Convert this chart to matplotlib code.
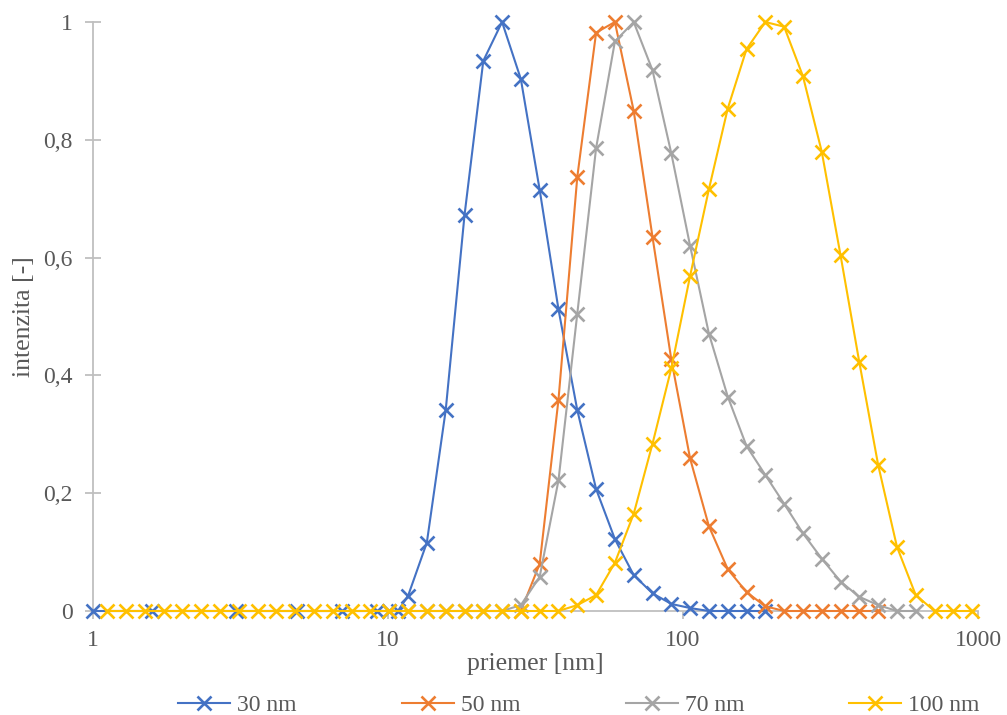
import numpy as np
import matplotlib.pyplot as plt
from matplotlib.ticker import FixedLocator, FuncFormatter, NullLocator

# Size classes [nm] and normalised intensities for each sample
x_30 = [1.0, 1.58, 3.05, 4.9, 6.97, 9.16, 10.1, 10.8, 11.70, 13.54, 15.69, 18.17,
        21.04, 24.36, 28.21, 32.67, 37.84, 43.82, 50.75, 58.77, 68.06, 78.82,
        91.28, 105.7, 122.4, 141.8, 164.2, 190.1]
y_30 = [0, 0, 0, 0, 0, 0, 0, 0, 0.026, 0.116, 0.341, 0.672,
        0.934, 1.0, 0.903, 0.715, 0.512, 0.341, 0.207, 0.122, 0.061, 0.030,
        0.012, 0.005, 0, 0, 0, 0]

x_50 = [28.21, 32.67, 37.84, 43.82, 50.75, 58.77, 68.06, 78.82, 91.28, 105.7,
        122.4, 141.8, 164.2, 190.1, 220.2, 255.0, 295.3, 342.0, 396.1, 458.7]
y_50 = [0, 0.080, 0.359, 0.737, 0.982, 1.0, 0.849, 0.635, 0.427, 0.259,
        0.144, 0.071, 0.032, 0.008, 0, 0, 0, 0, 0, 0]

x_70 = [10.10, 11.70, 13.54, 15.69, 18.17, 21.04, 24.36, 28.21, 32.67, 37.84,
        43.82, 50.75, 58.77, 68.06, 78.82, 91.28, 105.7, 122.4, 141.8, 164.2,
        190.1, 220.2, 255.0, 295.3, 342.0, 396.1, 458.7, 531.2, 615.1]
y_70 = [0, 0, 0, 0, 0, 0, 0, 0.010, 0.058, 0.222,
        0.505, 0.786, 0.967, 1.0, 0.918, 0.777, 0.620, 0.471, 0.364, 0.280,
        0.231, 0.182, 0.132, 0.089, 0.050, 0.024, 0.010, 0, 0]

x_100 = [1.117, 1.294, 1.499, 1.736, 2.010, 2.328, 2.696, 3.122, 3.615, 4.187,
         4.849, 5.615, 6.503, 7.531, 8.721, 10.10, 11.70, 13.54, 15.69, 18.17,
         21.04, 24.36, 28.21, 32.67, 37.84, 43.82, 50.75, 58.77, 68.06, 78.82,
         91.28, 105.7, 122.4, 141.8, 164.2, 190.1, 220.2, 255.0, 295.3, 342.0,
         396.1, 458.7, 531.2, 615.1, 712.4, 825.0, 955.4]
y_100 = [0, 0, 0, 0, 0, 0, 0, 0, 0, 0,
         0, 0, 0, 0, 0, 0, 0, 0, 0, 0,
         0, 0, 0, 0, 0, 0.010, 0.027, 0.082, 0.165, 0.284,
         0.412, 0.569, 0.716, 0.853, 0.954, 1.0, 0.992, 0.908, 0.780, 0.604,
         0.422, 0.248, 0.109, 0.027, 0, 0, 0]

labels = ["30 nm", "50 nm", "70 nm", "100 nm"]
colors = ["#4472C4", "#ED7D31", "#A5A5A5", "#FFC000"]

x_ticks = [1, 10, 100, 1000]
y_ticks = [0, 0.2, 0.4, 0.6, 0.8, 1.0]

plt.rcParams['font.family'] = ['Liberation Serif', 'DejaVu Serif']
text_col = "#595959"
axis_col = "#BFBFBF"

fig = plt.figure(figsize=(10.07, 7.15), dpi=100)
ax = fig.add_axes([93 / 1007, 1 - 611 / 715, (978 - 93) / 1007, (611 - 22) / 715])

series = [(x_30, y_30), (x_50, y_50), (x_70, y_70), (x_100, y_100)]
for (xs, ys), lab, col in zip(series, labels, colors):
    ax.plot(xs, ys, color=col, lw=1.5, marker='x', markersize=10.5,
            markeredgewidth=1.9, label=lab, clip_on=False, zorder=3)

ax.set_xscale('log')
ax.set_xlim(1, 1000)
ax.set_ylim(0, 1)

ax.xaxis.set_major_locator(FixedLocator(x_ticks))
ax.xaxis.set_minor_locator(NullLocator())
ax.xaxis.set_major_formatter(FuncFormatter(lambda v, p: f"{v:g}"))
ax.yaxis.set_major_locator(FixedLocator(y_ticks))
ax.yaxis.set_major_formatter(FuncFormatter(lambda v, p: f"{v:g}".replace('.', ',')))

for s in ['top', 'right']:
    ax.spines[s].set_visible(False)
for s in ['left', 'bottom']:
    ax.spines[s].set_color(axis_col)
    ax.spines[s].set_linewidth(1.3)
    ax.spines[s].set_zorder(1)

ax.tick_params(axis='x', direction='out', length=6, width=1.3, color=axis_col,
               labelsize=17, labelcolor=text_col, pad=8)
ax.tick_params(axis='y', direction='inout', length=11, width=1.3, color=axis_col,
               labelsize=17, labelcolor=text_col, pad=9)

ax.set_xlabel("priemer [nm]", fontsize=18.5, color=text_col, labelpad=1)
ax.set_ylabel("intenzita [-]", fontsize=18.5, color=text_col, labelpad=6)

fig.legend(loc='center', bbox_to_anchor=(0.575, 1 - 705 / 715), ncol=4,
           frameon=False, fontsize=17, handlelength=2.2, handletextpad=0.3,
           columnspacing=4.45, labelcolor=text_col)

fig.savefig("out.png", dpi=100)
